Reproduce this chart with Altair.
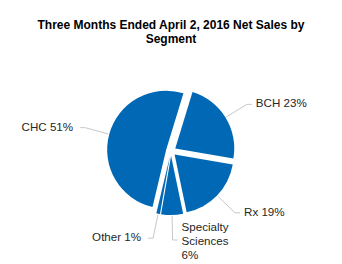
import altair as alt
import pandas as pd

# ---- data ----
segments = ["BCH", "Rx", "Specialty Sciences", "Other", "CHC"]
shares = [23, 19, 6, 1, 51]
title_lines = ["Three Months Ended April 2, 2016 Net Sales by", "Segment"]

# ---- layout / style ----
W, H = 342, 264
CX, CY, R = 171, 151, 59
START_DEG = 17
EXPLODE = 5
LEAD_R0 = 65
LEAD_R1 = 89
TAIL = 5
GAP_R = 4
GAP_L = 7
LINE_H = 14
BLUE = "#0068B5"
FONT = "Liberation Sans"
LABEL_COLOR = "#262626"
LINE_COLOR = "#C8C8C8"

df = pd.DataFrame({"segment": segments, "value": shares, "order": list(range(len(segments)))})

base = (
    alt.Chart(df)
    .transform_joinaggregate(total="sum(value)")
    .transform_window(cum="sum(value)", sort=[alt.SortField("order")], frame=[None, 0])
    .transform_calculate(t1=f"{START_DEG}*PI/180 + 2*PI*datum.cum/datum.total")
    .transform_calculate(t0="datum.t1 - 2*PI*datum.value/datum.total")
    .transform_calculate(mid="(datum.t0 + datum.t1)/2")
    .transform_calculate(ux="sin(datum.mid)")
    .transform_calculate(uy="-cos(datum.mid)")
    .transform_calculate(side="datum.ux >= 0 ? 1 : -1")
    .transform_calculate(ax=f"{CX} + {EXPLODE}*datum.ux")
    .transform_calculate(ay=f"{CY} + {EXPLODE}*datum.uy")
    .transform_calculate(p0x=f"{CX} + {LEAD_R0}*datum.ux")
    .transform_calculate(p0y=f"{CY} + {LEAD_R0}*datum.uy")
    .transform_calculate(p1x=f"{CX} + {LEAD_R1}*datum.ux")
    .transform_calculate(p1y=f"{CY} + {LEAD_R1}*datum.uy")
    .transform_calculate(p2x=f"datum.p1x + {TAIL}*datum.side")
    .transform_calculate(tx=f"datum.p1x + datum.side*({TAIL} + (datum.side > 0 ? {GAP_R} : {GAP_L}))")
    .transform_calculate(
        label="length(datum.segment) > 10 ? replace(datum.segment + ' ' + datum.value + '%', regexp(' ', 'g'), '\\n') : datum.segment + ' ' + datum.value + '%'"
    )
    .transform_calculate(nlines="length(split(datum.label, '\\n'))")
    .transform_calculate(ty=f"datum.p1y - (datum.nlines - 1)*{LINE_H}*0.43")
)

arcs = base.mark_arc(radius=R, color=BLUE).encode(
    x=alt.X("ax:Q", scale=None, axis=None),
    y=alt.Y("ay:Q", scale=None, axis=None),
    theta=alt.Theta("t0:Q", scale=None),
    theta2="t1:Q",
)

lead1 = base.mark_rule(color=LINE_COLOR, strokeWidth=1).encode(
    x=alt.X("p0x:Q", scale=None, axis=None),
    y=alt.Y("p0y:Q", scale=None, axis=None),
    x2="p1x:Q",
    y2="p1y:Q",
)
lead2 = base.mark_rule(color=LINE_COLOR, strokeWidth=1).encode(
    x=alt.X("p1x:Q", scale=None, axis=None),
    y=alt.Y("p1y:Q", scale=None, axis=None),
    x2="p2x:Q",
    y2="p1y:Q",
)

text_kw = dict(font=FONT, fontSize=11.6, color=LABEL_COLOR, baseline="middle", lineBreak="\n", lineHeight=LINE_H)
labels_right = base.transform_filter("datum.side > 0").mark_text(align="left", **text_kw).encode(
    x=alt.X("tx:Q", scale=None, axis=None),
    y=alt.Y("ty:Q", scale=None, axis=None),
    text="label:N",
)
labels_left = base.transform_filter("datum.side < 0").mark_text(align="right", **text_kw).encode(
    x=alt.X("tx:Q", scale=None, axis=None),
    y=alt.Y("ty:Q", scale=None, axis=None),
    text="label:N",
)

title = alt.Chart(pd.DataFrame({"t": ["\n".join(title_lines)]})).mark_text(
    font=FONT, fontSize=12, fontWeight="bold", color="#000000", align="center",
    baseline="alphabetic", lineBreak="\n", lineHeight=14,
).encode(x=alt.value(W / 2), y=alt.value(29), text="t:N")

chart = (
    alt.layer(arcs, lead1, lead2, labels_right, labels_left, title)
    .properties(width=W, height=H, autosize=alt.AutoSizeParams(type="none"), padding=0)
    .configure_view(stroke=None)
)

chart.save("out.html", embed_options={"renderer": "svg", "actions": False})
